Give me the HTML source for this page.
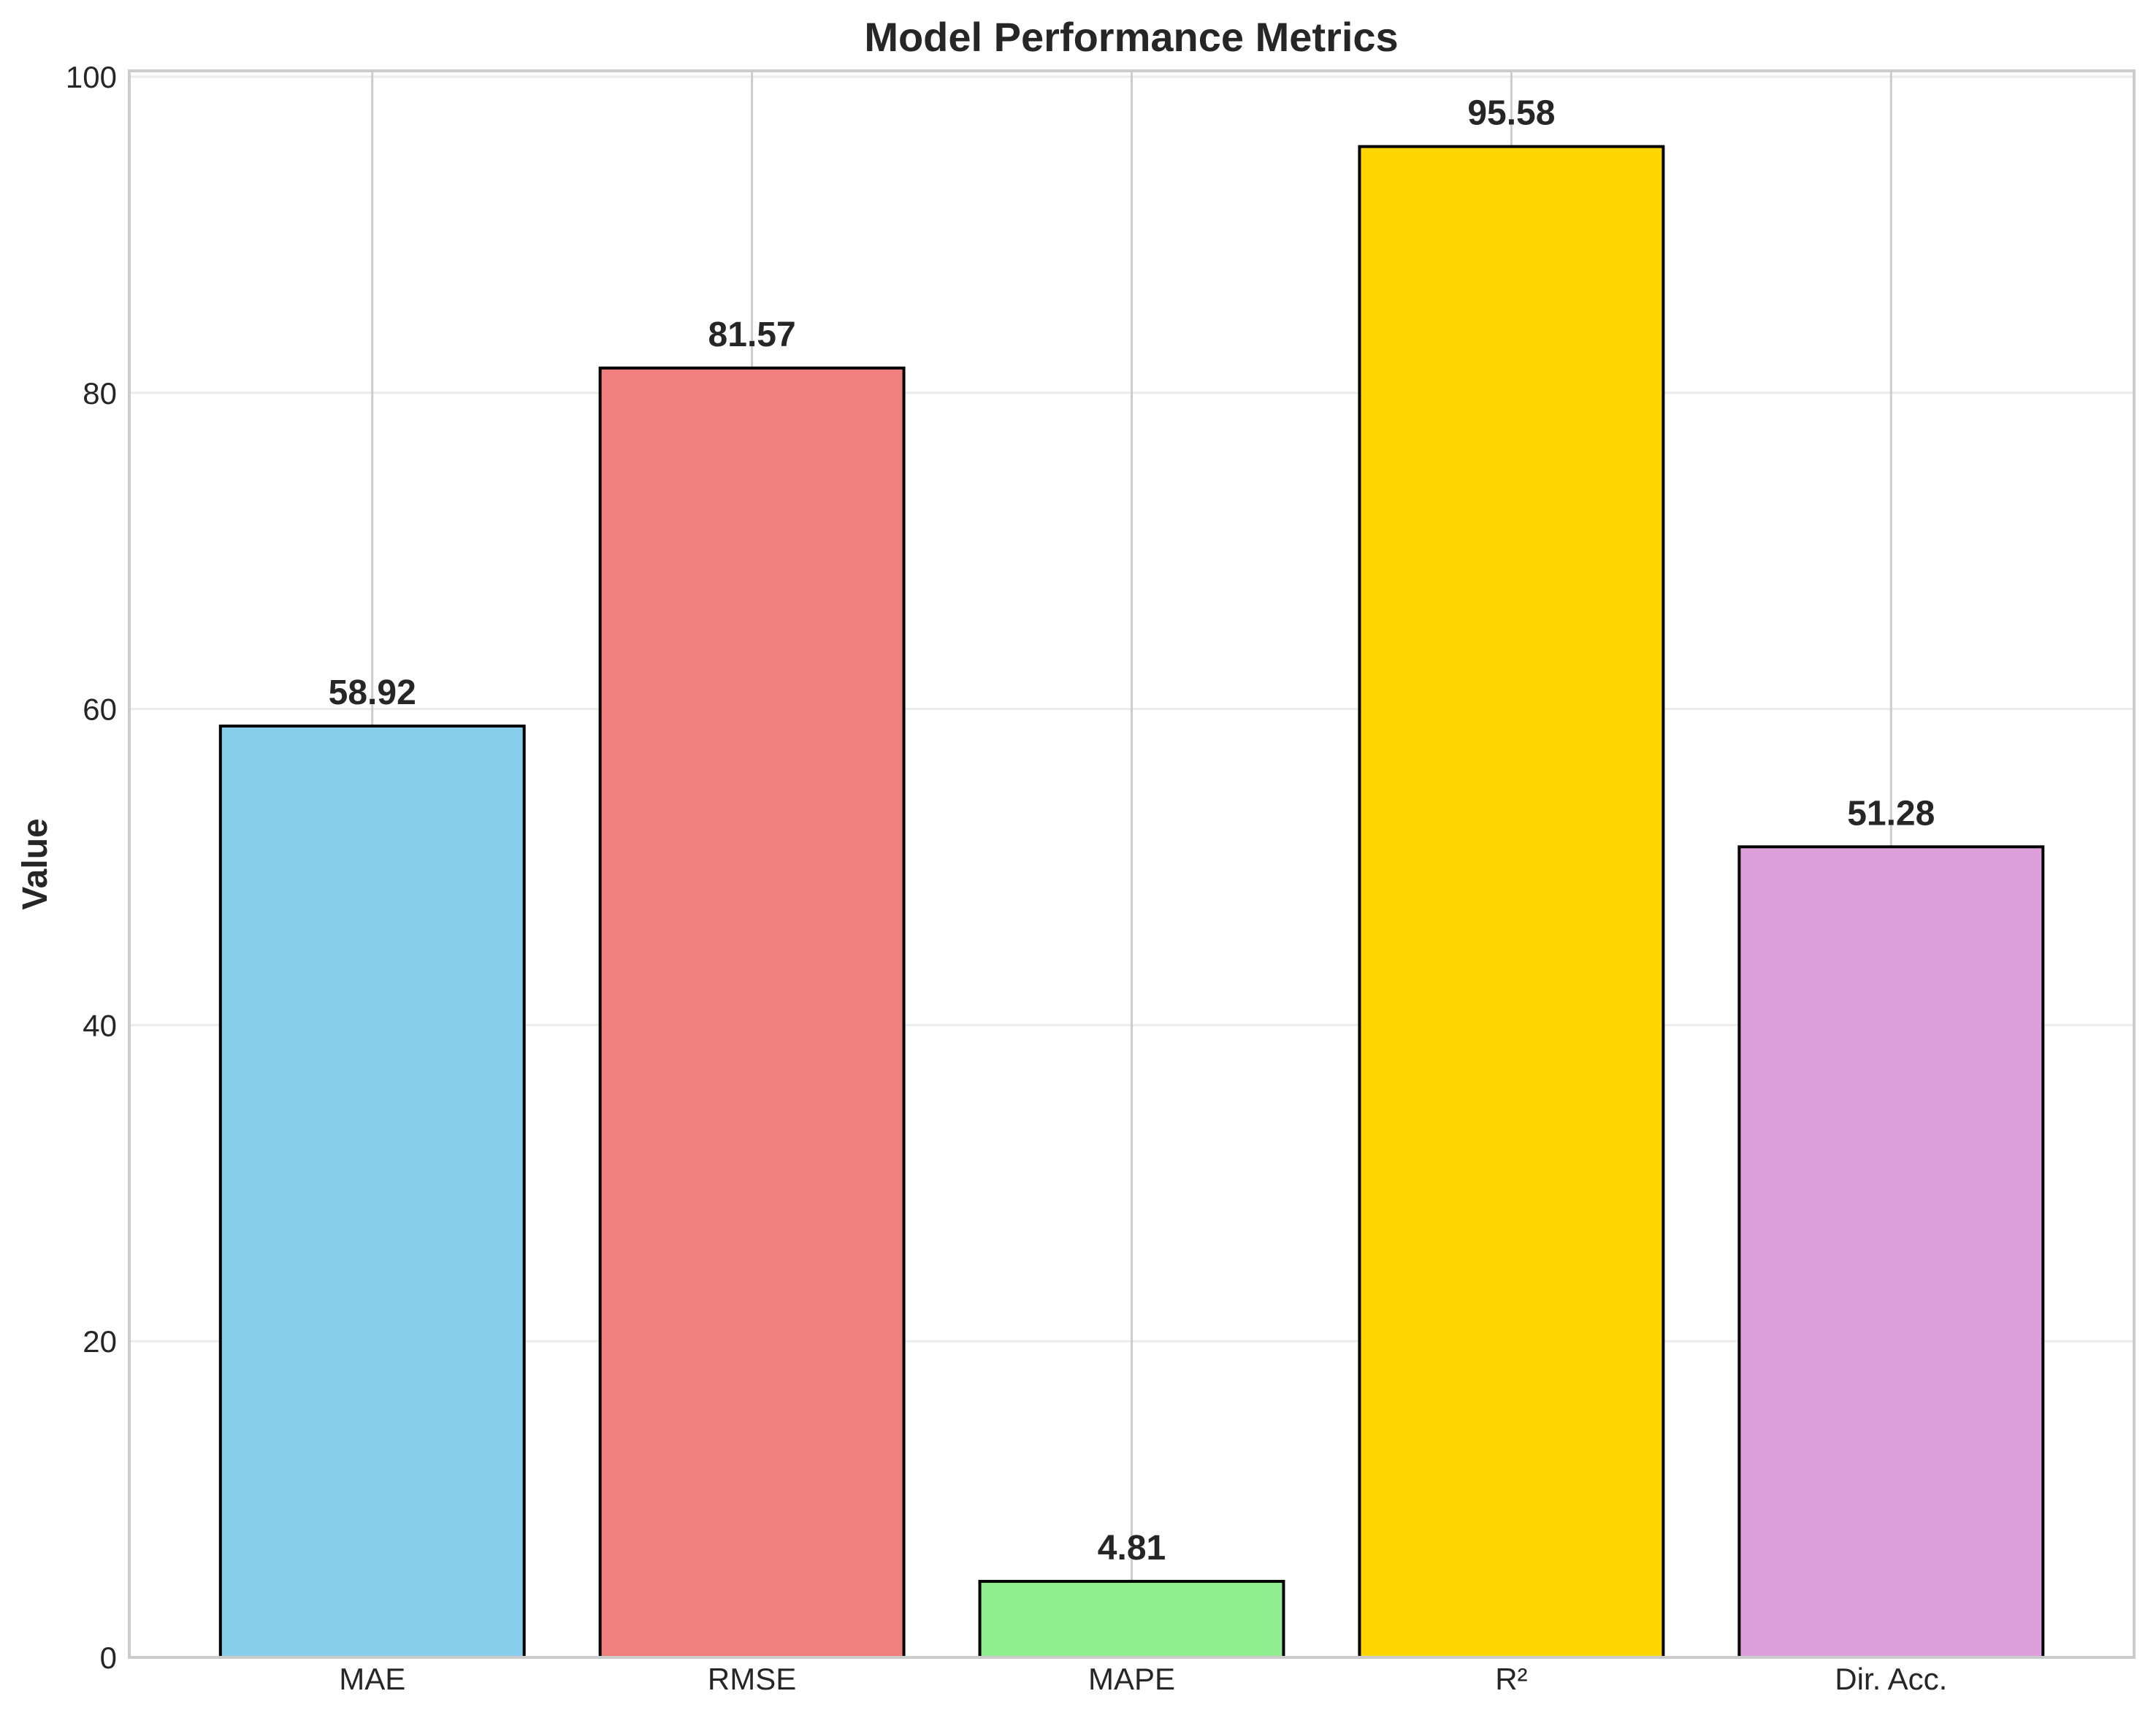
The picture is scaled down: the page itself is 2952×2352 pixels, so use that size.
<!DOCTYPE html>
<html>
<head>
<meta charset="utf-8">
<style>
  html,body{margin:0;padding:0;background:#fff;}
  svg{display:block;font-family:"Liberation Sans",Arial,sans-serif;}
</style>
</head>
<body>
<svg id="chart" width="2952" height="2352" viewBox="0 0 2952 2352" xmlns="http://www.w3.org/2000/svg">
  <rect x="0" y="0" width="2952" height="2352" fill="#ffffff"/>
  <g id="grid"></g>
  <g id="bars"></g>
  <g id="labels"></g>
  <rect x="177" y="97" width="2745" height="2172" fill="none" stroke="#cccccc" stroke-width="4"/>
  <g id="yticks"></g>
  <g id="xticks"></g>
  <text x="1549" y="70" text-anchor="middle" font-size="56" font-weight="bold" fill="#262626">Model Performance Metrics</text>
  <text x="0" y="0" transform="translate(64,1183) rotate(-90)" text-anchor="middle" font-size="48" font-weight="bold" fill="#262626">Value</text>
</svg>
<script>
const categories = ["MAE", "RMSE", "MAPE", "R\u00b2", "Dir. Acc."];
const values = [58.92, 81.57, 4.81, 95.58, 51.28];
const valueLabels = ["58.92", "81.57", "4.81", "95.58", "51.28"];
const barColors = ["#87CEEB", "#F08080", "#90EE90", "#FFD700", "#DDA0DD"];
const yTicks = [0, 20, 40, 60, 80, 100];

const NS = "http://www.w3.org/2000/svg";
const axL = 177, axR = 2922, axT = 97, axB = 2269;
const yMin = 0, yMax = 100.37;
const xMin = -0.64, xMax = categories.length - 1 + 0.64;
function xScale(i){ return axL + (i - xMin) / (xMax - xMin) * (axR - axL); }
function yScale(v){ return axB - (v - yMin) / (yMax - yMin) * (axB - axT); }
const bw = 0.8 * (xScale(1) - xScale(0));

function mk(tag, attrs, parent){
  const el = document.createElementNS(NS, tag);
  for (const k in attrs) el.setAttribute(k, attrs[k]);
  parent.appendChild(el);
  return el;
}
const gridG = document.getElementById("grid");
const barsG = document.getElementById("bars");
const labelsG = document.getElementById("labels");
const ytG = document.getElementById("yticks");
const xtG = document.getElementById("xticks");

yTicks.forEach(t => {
  const y = yScale(t);
  const g = mk("line", {x1:axL, x2:axR, y1:y, y2:y, stroke:"#ebebeb", "stroke-width":3}, gridG);
  
  
  const tx = mk("text", {x:160, y:y+15, "text-anchor":"end", "font-size":42, fill:"#262626"}, ytG);
  tx.textContent = String(t);
  
  
});

categories.forEach((c, i) => {
  const cx = xScale(i);
  const g = mk("line", {x1:cx, x2:cx, y1:axT, y2:axB, stroke:"#cccccc", "stroke-width":3}, gridG);
  
  
  const y = yScale(values[i]);
  const r = mk("rect", {x:cx - bw/2, y:y, width:bw, height:axB - y, fill:barColors[i], stroke:"#000", "stroke-width":4}, barsG);
  
  
  const vl = mk("text", {x:cx, y:y - 30, "text-anchor":"middle", "font-size":48, "font-weight":"bold", fill:"#262626"}, labelsG);
  vl.textContent = valueLabels[i];
  
  
  const xl = mk("text", {x:cx, y:2313, "text-anchor":"middle", "font-size":42, fill:"#262626"}, xtG);
  xl.textContent = c;
  
  
});
</script>
</body>
</html>
